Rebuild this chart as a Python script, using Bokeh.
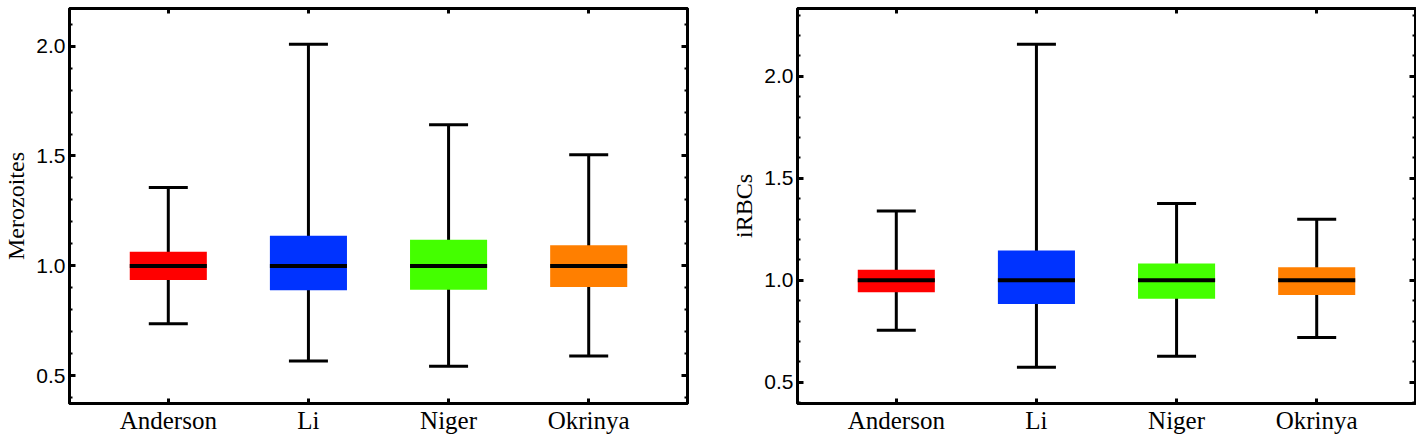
from bokeh.plotting import figure
from bokeh.models import (FactorRange, Range1d, LinearAxis, CategoricalAxis,
                          FixedTicker, NumeralTickFormatter, Whisker, TeeHead,
                          ColumnDataSource)
from bokeh.layouts import row
from bokeh.embed import file_html
from bokeh.resources import INLINE

# ---------------- data ----------------
strains = ["Anderson", "Li", "Niger", "Okrinya"]
box_colors = ["#ff0000", "#0033ff", "#44ff00", "#ff7f00"]

mero_lower = [0.737, 0.567, 0.543, 0.590]
mero_q1 = [0.936, 0.889, 0.892, 0.904]
mero_median = [1.0, 1.0, 1.0, 1.0]
mero_q3 = [1.064, 1.137, 1.119, 1.094]
mero_upper = [1.357, 2.008, 1.642, 1.506]

irbc_lower = [0.755, 0.574, 0.627, 0.719]
irbc_q1 = [0.941, 0.884, 0.910, 0.928]
irbc_median = [1.0, 1.0, 1.0, 1.0]
irbc_q3 = [1.052, 1.146, 1.082, 1.064]
irbc_upper = [1.340, 2.157, 1.376, 1.299]

y_ticks = [0.5, 1.0, 1.5, 2.0]
y_minor_ticks = [0.4, 0.5, 0.6, 0.7, 0.8, 0.9, 1.0, 1.1, 1.2, 1.3, 1.4, 1.5,
                 1.6, 1.7, 1.8, 1.9, 2.0, 2.1, 2.2, 2.3]

SERIF = "Liberation Serif"
SANS = "Liberation Sans"


def make_panel(ylabel, lower, q1, med, q3, upper, y0, y1, width, border_left, border_right):
    src = ColumnDataSource(dict(x=strains, lower=lower, q1=q1, med=med, q3=q3,
                                upper=upper, color=box_colors))
    p = figure(x_range=FactorRange(factors=strains, range_padding=0.1025),
               y_range=Range1d(y0, y1), width=width, height=436,
               output_backend="svg", toolbar_location=None,
               min_border_left=border_left, min_border_right=border_right,
               min_border_top=8, min_border_bottom=0)
    p.xgrid.grid_line_color = None
    p.ygrid.grid_line_color = None
    p.outline_line_color = "black"
    p.outline_line_width = 3
    p.outline_line_alpha = 1.0
    p.background_fill_color = "white"
    p.border_fill_color = "white"

    w = Whisker(base="x", lower="lower", upper="upper", source=src,
                dimension="height", line_color="black", line_width=3,
                upper_head=TeeHead(size=39, line_color="black", line_width=3),
                lower_head=TeeHead(size=39, line_color="black", line_width=3),
                level="underlay")
    p.add_layout(w)
    p.vbar(x="x", width=0.55, bottom="q1", top="q3", fill_color="color",
           line_color=None, source=src)
    p.rect(x="x", y="med", width=0.55, height=4, height_units="screen",
           fill_color="black", line_color=None, source=src)

    ticker = FixedTicker(ticks=y_ticks, minor_ticks=y_minor_ticks)
    # left axis
    ya = p.yaxis[0]
    ya.ticker = ticker
    ya.formatter = NumeralTickFormatter(format="0.0")
    ya.axis_label = ylabel
    ya.axis_label_text_font = SERIF
    ya.axis_label_text_font_size = "24px"
    ya.axis_label_text_font_style = "normal"
    ya.axis_label_text_color = "black"
    ya.axis_label_standoff = 4
    ya.major_label_text_font = SANS
    ya.major_label_text_font_size = "21px"
    ya.major_label_text_color = "black"
    ya.major_label_standoff = 4

    ra = LinearAxis(ticker=ticker, major_label_text_font_size="1px",
                    major_label_text_color=None, major_label_standoff=0)
    p.add_layout(ra, "right")

    xa = p.xaxis[0]
    xa.major_label_text_font = SERIF
    xa.major_label_text_font_size = "25px"
    xa.major_label_text_color = "black"
    xa.major_label_standoff = 3

    ta = CategoricalAxis(major_label_text_font_size="1px",
                         major_label_text_color=None, major_label_standoff=0)
    p.add_layout(ta, "above")

    for ax in (ya, ra):
        ax.major_tick_in = 6
        ax.major_tick_out = 0
        ax.minor_tick_in = 3
        ax.minor_tick_out = 0
        ax.major_tick_line_width = 3
        ax.minor_tick_line_width = 2
        ax.major_tick_line_color = "black"
        ax.minor_tick_line_color = "black"
        ax.axis_line_color = "black"
        ax.axis_line_width = 3
    for ax in (xa, ta):
        ax.major_tick_in = 5
        ax.major_tick_out = 0
        ax.major_tick_line_width = 3
        ax.major_tick_line_color = "black"
        ax.axis_line_color = "black"
        ax.axis_line_width = 3
    return p


p1 = make_panel("Merozoites", mero_lower, mero_q1, mero_median, mero_q3, mero_upper,
                0.374, 2.171, width=717, border_left=61, border_right=30)
p2 = make_panel("iRBCs", irbc_lower, irbc_q1, irbc_median, irbc_q3, irbc_upper,
                0.396, 2.332, width=699, border_left=80, border_right=1)

layout = row(p1, p2)
open("out.html", "w").write(file_html(layout, INLINE))
